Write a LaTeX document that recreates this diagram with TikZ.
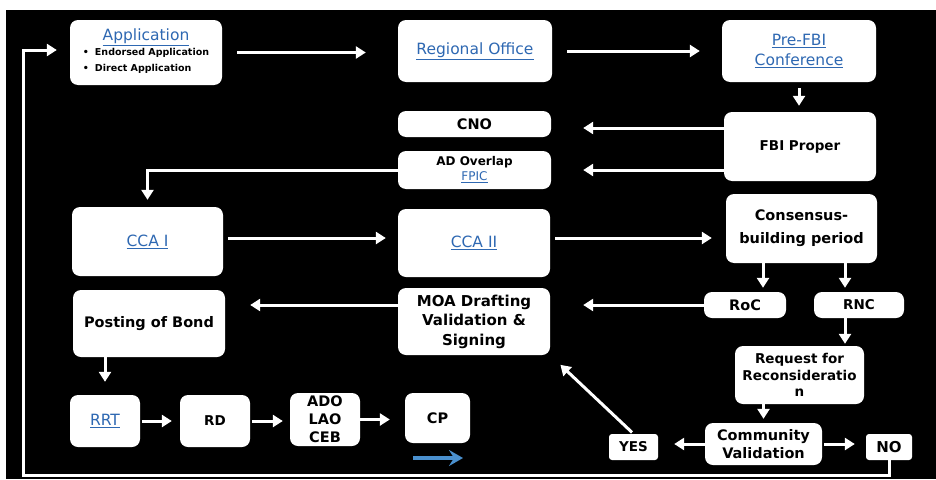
\documentclass[tikz,border=0pt]{standalone}
\usepackage{fontspec}
\setmainfont{DejaVu Sans}
\usetikzlibrary{arrows.meta}
\definecolor{linkblue}{RGB}{46,104,178}
\definecolor{hintblue}{RGB}{74,144,206}
\newcommand{\lnk}[1]{\textcolor{linkblue}{\underline{#1}}}

\begin{document}
\begin{tikzpicture}[x=1pt,y=-1pt,
  box/.style={fill=white,rounded corners=8pt,align=center,inner sep=2pt,
    font=\bfseries\fontsize{14.5}{20}\selectfont},
  lbox/.style={box,font=\fontsize{15.5}{20}\selectfont},
  flow/.style={draw=white,line width=3pt,-{Triangle[length=10pt,width=12pt]}}]
\useasboundingbox (0,0) rectangle (936,479);
\fill[black] (6,10) rectangle (936,479);
% first row
\node[lbox,minimum width=152pt,minimum height=65pt] (app) at (146,52.5)
 {\lnk{Application}\\[-3pt]
  {\bfseries\fontsize{9.5}{16}\selectfont\begin{tabular}{@{}l@{\hspace{6pt}}l@{}}
   \textbullet & Endorsed Application\\ \textbullet & Direct Application\end{tabular}}};
\node[lbox,minimum width=154pt,minimum height=62pt] (reg) at (475,51) {\lnk{Regional Office}};
\node[lbox,minimum width=154pt,minimum height=62pt] (pre) at (799,51) {\lnk{Pre-FBI}\\\lnk{Conference}};
% FBI
\node[box,minimum width=153pt,minimum height=26pt] (cno) at (474.5,124) {CNO};
\node[box,minimum width=153pt,minimum height=38pt,font=\fontsize{12}{15}\selectfont] (adov) at (474.5,170) {{\bfseries AD Overlap}\\\lnk{FPIC}};
\node[box,minimum width=152pt,minimum height=69pt,font=\bfseries\fontsize{13.5}{20}\selectfont] (fbi) at (800,146.5) {FBI Proper};
% CCA
\node[lbox,minimum width=151pt,minimum height=69pt] (ccaI) at (147.5,241.5) {\lnk{CCA I}};
\node[lbox,minimum width=152pt,minimum height=68pt] (ccaII) at (474,243) {\lnk{CCA II}};
\node[box,minimum width=151pt,minimum height=69pt,font=\bfseries\fontsize{14.5}{23}\selectfont] (cons) at (801.5,228.5) {Consensus-\\building period};
% MOA
\node[box,minimum width=152pt,minimum height=67pt] (bond) at (149,323.5) {Posting of Bond};
\node[box,minimum width=152pt,minimum height=67pt,font=\bfseries\fontsize{15}{19.5}\selectfont] (moa) at (474,321.5) {MOA Drafting\\Validation \&\\Signing};
\node[box,minimum width=82pt,minimum height=26pt] (roc) at (745,305) {RoC};
\node[box,minimum width=90pt,minimum height=26pt,font=\bfseries\fontsize{13.5}{20}\selectfont] (rnc) at (859,305) {RNC};
\node[box,minimum width=129pt,minimum height=58pt,inner sep=0pt,font=\bfseries\fontsize{13.5}{16.5}\selectfont] (req) at (799.5,375) {Request for\\Reconsideratio\\n};
% last row
\node[lbox,minimum width=70pt,minimum height=52pt] (rrt) at (105,421) {\lnk{RRT}};
\node[box,minimum width=70pt,minimum height=52pt,font=\bfseries\fontsize{13.5}{20}\selectfont] (rd) at (215,421) {RD};
\node[box,minimum width=70pt,minimum height=53pt,inner sep=0pt,font=\bfseries\fontsize{14.5}{18}\selectfont] (ado) at (325,419.5) {ADO\\LAO\\CEB};
\node[box,minimum width=65pt,minimum height=50pt] (cp) at (437.5,418) {CP};
\node[box,minimum width=49pt,minimum height=26pt,rounded corners=3pt,font=\bfseries\fontsize{13.5}{20}\selectfont] (yes) at (633.5,447) {YES};
\node[box,minimum width=117pt,minimum height=42pt,font=\bfseries\fontsize{14.5}{18}\selectfont] (comval) at (763.5,444) {Community\\Validation};
\node[box,minimum width=46pt,minimum height=26pt,rounded corners=3pt,font=\bfseries\fontsize{15}{20}\selectfont] (no) at (889,447) {NO};
% arrows
\draw[flow,shorten <=15pt,shorten >=32pt] (app.east) -- (app.east -| reg.west);
\draw[flow,shorten <=15pt,shorten >=22pt] (reg.east) -- (reg.east -| pre.west);
\draw[flow,shorten <=6pt,shorten >=6pt] (pre.south) -- (pre.south |- fbi.north);
\draw[flow,shorten >=32pt] ([yshift=-4pt]fbi.west |- cno.east) -- ([yshift=-4pt]cno.east);
\draw[flow,shorten >=32pt] (fbi.west |- adov.east) -- (adov.east);
\draw[flow,shorten >=7pt] (adov.west) -| (ccaI.north);
\draw[flow,shorten <=5pt,shorten >=12pt] ([yshift=3.5pt]ccaI.east) -- ([yshift=3.5pt]ccaI.east -| ccaII.west);
\draw[flow,shorten <=5pt,shorten >=14pt] ([yshift=5pt]ccaII.east) -- ([yshift=5pt]ccaII.east -| cons.west);
\draw[flow,shorten >=4pt] ([xshift=18pt]roc.north |- cons.south) -- ([xshift=18pt]roc.north);
\draw[flow,shorten >=4pt] ([xshift=-14pt]rnc.north |- cons.south) -- ([xshift=-14pt]rnc.north);
\draw[flow,shorten >=33pt] (roc.west) -- (roc.west -| moa.east);
\draw[flow,shorten >=25pt] ([yshift=16.5pt]moa.west) -- ([yshift=16.5pt]moa.west -| bond.east);
\draw[flow,shorten >=13pt] (rrt.north |- bond.south) -- (rrt.north);
\draw[flow,shorten <=2pt,shorten >=8pt] (rrt.east) -- (rd.west);
\draw[flow,shorten <=2pt,shorten >=7pt] (rd.east) -- (rd.east -| ado.west);
\draw[flow,shorten >=15pt] (ado.east) -- (ado.east -| cp.west);
\draw[flow,shorten >=2pt] ([xshift=-14pt]rnc.south) -- ([xshift=-14pt]rnc.south |- req.north);
\draw[flow,shorten >=4pt] (comval.north |- req.south) -- (comval.north);
\draw[flow,shorten >=16pt] (comval.west) -- (comval.west -| yes.east);
\draw[flow,shorten <=2pt,shorten >=11pt] (comval.east) -- (comval.east -| no.west);
\draw[flow,shorten <=2pt,shorten >=14pt] (yes.north) -- (moa.south east);
% back to the start
\coordinate (loopbl) at (23,475);
\draw[flow,shorten >=13pt] (no.south) |- (loopbl) |- ([yshift=2.5pt]app.west);
\coordinate (hintA) at (413,458);
\coordinate (hintB) at (463,458);
\draw[hintblue,line width=4pt,-{Stealth[length=14pt,width=16pt,inset=5pt]}] (hintA) -- (hintB);
\end{tikzpicture}
\end{document}
